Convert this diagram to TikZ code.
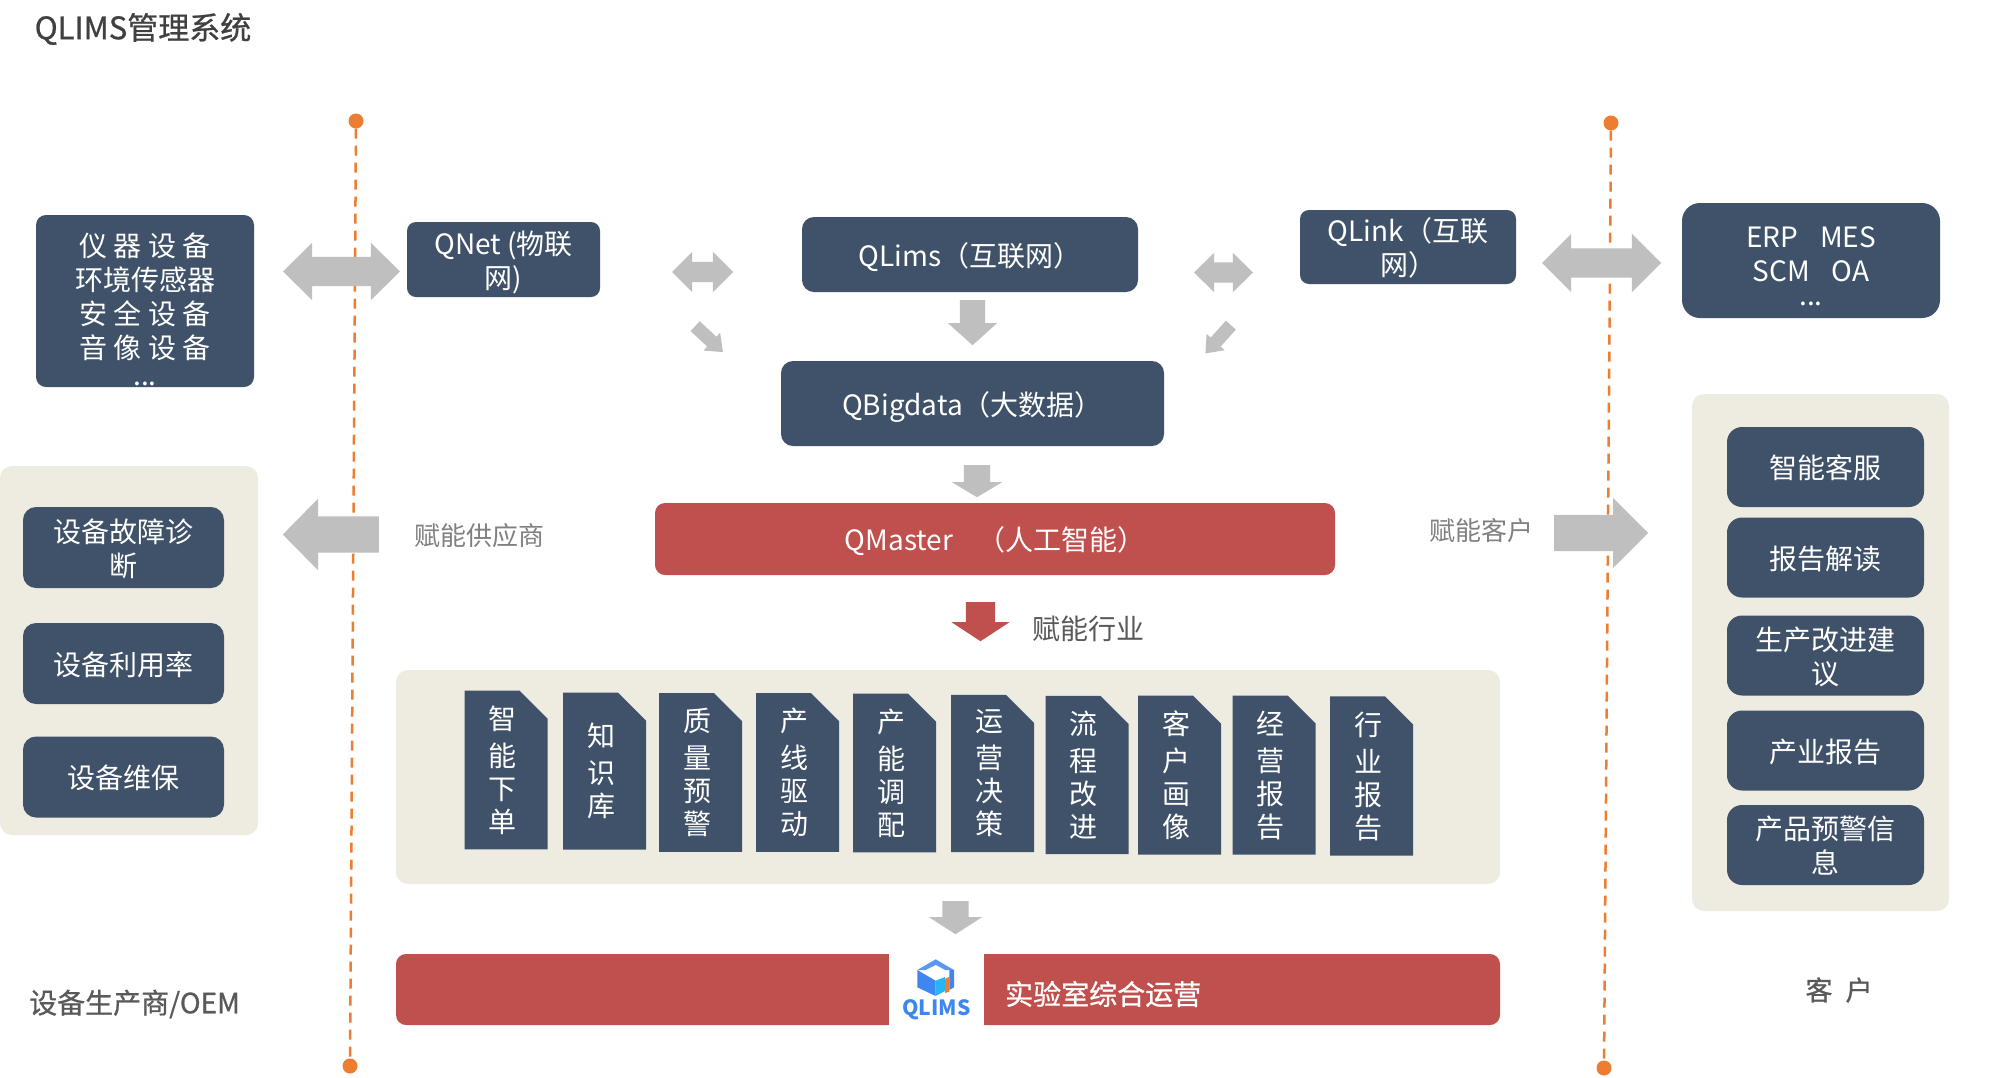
\documentclass[tikz,border=0pt]{standalone}
\usepackage{fontspec}
\setmainfont{Noto Sans CJK SC}
\newfontfamily\medfont[FakeBold=0.8]{Noto Sans CJK SC}
\usetikzlibrary{shapes.arrows,shapes.misc}

\definecolor{navy}{HTML}{3F5269}
\definecolor{brick}{HTML}{C0504D}
\definecolor{sand}{HTML}{EEECE1}
\definecolor{arrowgray}{HTML}{BFBFBF}
\definecolor{dashorange}{HTML}{ED7D31}
\definecolor{logoblue}{HTML}{3F86F0}

\tikzset{
  boxfont/.style={font=\fontsize{28}{34}\selectfont},
  sized/.style 2 args={minimum width=#1, minimum height=#2},
  bluebox/.style={fill=navy, text=white, rounded corners=10, inner sep=0, align=center, boxfont, text depth=0},
  redbox/.style={fill=brick, text=white, rounded corners=10, inner sep=0, align=center, boxfont, text depth=0},
  panel/.style={fill=sand, rounded corners=12, inner sep=0},
  tabbox/.style={chamfered rectangle, chamfered rectangle corners=north east,
    chamfered rectangle xsep=13, chamfered rectangle ysep=15,
    fill=navy, text=white, inner sep=0, sized={83}{157}, text width=35, align=left,
    font=\fontsize{28}{33}\selectfont, execute at begin node={\vspace*{4pt}}},
  onearrow/.style n args={5}{single arrow, fill=#5, inner xsep=0, inner ysep={#3/2}, anchor=tail,
    minimum height=#1, minimum width=#2,
    single arrow head extend={(#2-#3)/2},
    single arrow tip angle={2*atan((#2/2)/#4)}},
  twoarrow/.style n args={4}{double arrow, fill=arrowgray, inner xsep=0, inner ysep={#3/2},
    minimum height=#1, minimum width=#2,
    double arrow head extend={(#2-#3)/2},
    double arrow tip angle={2*atan((#2/2)/#4)}},
  dot/.style={circle, fill=dashorange, inner sep=0, minimum size=15},
  note/.style={text=black!50, font=\fontsize{26}{32}\selectfont, inner sep=0}
}

\begin{document}
\begin{tikzpicture}[x=1pt,y=-1pt]

  \path[use as bounding box, fill=white] (0,0) rectangle (2003,1077);

  \node[inner sep=0, text=black!75, font=\fontsize{31}{36}\selectfont\medfont] (title) at (143,29) {QLIMS管理系统};

  % dashed borders
  \node[dot] (lefttop) at (356,121) {};
  \node[dot] (leftbottom) at (350,1066) {};
  \node[dot] (righttop) at (1611,123) {};
  \node[dot] (rightbottom) at (1604,1068) {};
  \draw[dashorange, line width=2.5, dash pattern=on 10 off 7] (lefttop) -- (leftbottom);
  \draw[dashorange, line width=2.5, dash pattern=on 10 off 7] (righttop) -- (rightbottom);

  % panels
  \node[panel, sized={258}{369}] (leftpanel) at (129,650.5) {};
  \node[panel, sized={257}{517}] (rightpanel) at (1820.5,652.5) {};
  \node[panel, sized={1104}{214}] (midpanel) at (948,777) {};

  % top row
  \begin{scope}[every node/.style={bluebox}]
    \node[sized={218}{172}] (devices) at (145,301) {\strut\\[-17pt]仪 器 设 备\\环境传感器\\安 全 设 备\\音 像 设 备\\[-7pt]...};
    \node[sized={193}{75}, rounded corners=9] (qnet) at (503.5,259.5) {QNet (物联\\网)};
    \node[sized={336}{75}, rounded corners=12] (qlims) at (970,254.5) {QLims（互联网）};
    \node[sized={216}{74}, rounded corners=9] (qlink) at (1408,247) {QLink（互联\\网）};
    \node[sized={258}{115}, rounded corners=18] (erp) at (1811,260.5) {\strut\\[-26pt]ERP\hspace{22pt}MES\\SCM\hspace{22pt}OA\\[-10pt]...};
    \node[sized={383}{85}, rounded corners=12] (qbigdata) at (972.5,403.5) {QBigdata（大数据）};
  \end{scope}

  \node[redbox, sized={680}{72}] (qmaster) at (995,539) {QMaster\hspace{24pt}（人工智能）};

  % left boxes
  \begin{scope}[every node/.style={bluebox, sized={201}{81}, rounded corners=13}]
    \node (diagnose) at (123.5,547.5) {设备故障诊\\断};
    \node (usage) at (123.5,663.5) {设备利用率};
    \node (upkeep) at (123.5,777) {设备维保};
  \end{scope}

  % right boxes
  \begin{scope}[every node/.style={bluebox, sized={197}{80}, rounded corners=15}]
    \node (service) at (1825.5,467) {智能客服};
    \node (reading) at (1825.5,557.5) {报告解读};
    \node (advice) at (1825.5,655.5) {生产改进建\\议};
    \node (industryreport) at (1825.5,750.5) {产业报告};
    \node (warning) at (1825.5,845) {产品预警信\\息};
  \end{scope}

  % tabs
  \begin{scope}[every node/.style={tabbox}]
    \node (order) at (506,770) {智\\能\\下\\单};
    \node (knowledge) at (604.5,771) {知\\识\\库};
    \node (quality) at (700.5,772.5) {质\\量\\预\\警};
    \node (line) at (797.5,772.5) {产\\线\\驱\\动};
    \node (capacity) at (894.5,773) {产\\能\\调\\配};
    \node (decision) at (992.5,773.5) {运\\营\\决\\策};
    \node (flow) at (1087,775) {流\\程\\改\\进};
    \node (portrait) at (1179.5,775) {客\\户\\画\\像};
    \node (business) at (1274,775) {经\\营\\报\\告};
    \node (sector) at (1371.5,776) {行\\业\\报\\告};
  \end{scope}

  % bottom bar with logo
  \node[redbox, sized={1104}{71}] (opsbar) at (948,989.5) {};
  \node[fill=white, inner sep=0, sized={95}{73}] (logobox) at (936.5,989.5) {};
  \fill[logoblue!85!white] (935.7,959.3) -- (954,970) -- (917.3,970) -- cycle;
  \fill[logoblue] (917.3,970) -- (935.7,980.7) -- (935.7,996) -- (917.3,987.3) -- cycle;
  \fill[white] (935.7,965) -- (945,970) -- (935.7,976) -- (926,970) -- cycle;
  \fill[logoblue!60!cyan] (935.7,980.7) -- (945,977) -- (945,991) -- (935.7,996) -- cycle;
  \fill[dashorange] (945,979) -- (949.3,976.7) -- (949.3,991.7) -- (945,993) -- cycle;
  \fill[logoblue] (949.3,970) -- (954,970) -- (954,987.3) -- (949.3,990) -- cycle;
  \node[inner sep=0, text=logoblue, font=\fontsize{21}{24}\selectfont\bfseries] (logotext) at (936.5,1009.5) {QLIMS};
  \node[inner sep=0, text=white, anchor=west, font=\fontsize{28}{34}\selectfont\medfont] (opstext) at (1005,994) {实验室综合运营};

  % block arrows
  \node[twoarrow={117}{57}{29}{29}] (devicelink) at (341.5,271.5) {};
  \node[twoarrow={61}{40}{20}{20}] (netlink) at (702.5,272) {};
  \node[twoarrow={59}{39}{20}{20}] (linklink) at (1223.5,272.5) {};
  \node[twoarrow={119}{58}{29}{29}] (erplink) at (1601.5,263) {};
  \node[onearrow={38}{24}{13}{15}{arrowgray}, rotate=-43] (netdown) at (695,326) {};
  \node[onearrow={38}{24}{13}{15}{arrowgray}, rotate=-132] (linkdown) at (1231,325) {};
  \node[onearrow={45}{49}{25}{22}{arrowgray}, rotate=-90] (limsdown) at (972.5,300) {};
  \node[onearrow={32}{50}{26}{15}{arrowgray}, rotate=-90] (bigdown) at (977,465) {};
  \node[onearrow={39}{58}{29}{19}{brick}, rotate=-90] (masterdown) at (980.5,602) {};
  \node[onearrow={33}{53}{26}{17}{arrowgray}, rotate=-90] (tabsdown) at (955.5,901) {};
  \node[onearrow={96}{71}{36}{35}{arrowgray}, rotate=180] (supplierarrow) at (379,534.5) {};
  \node[onearrow={94}{70}{36}{35}{arrowgray}] (customerarrow) at (1554,533) {};

  % labels
  \node[note] (supplier) at (479,536) {赋能供应商};
  \node[note] (customer) at (1481,531) {赋能客户};
  \node[note, text=black!65, font=\fontsize{28}{34}\selectfont] (industry) at (1088,629) {赋能行业};
  \node[note, text=black!65, font=\fontsize{28}{34}\selectfont\medfont] (maker) at (134.5,1004) {设备生产商/OEM};
  \node[note, text=black!65, font=\fontsize{27}{34}\selectfont\medfont] (client) at (1839,990) {客\hspace{13pt}户};

\end{tikzpicture}
\end{document}
